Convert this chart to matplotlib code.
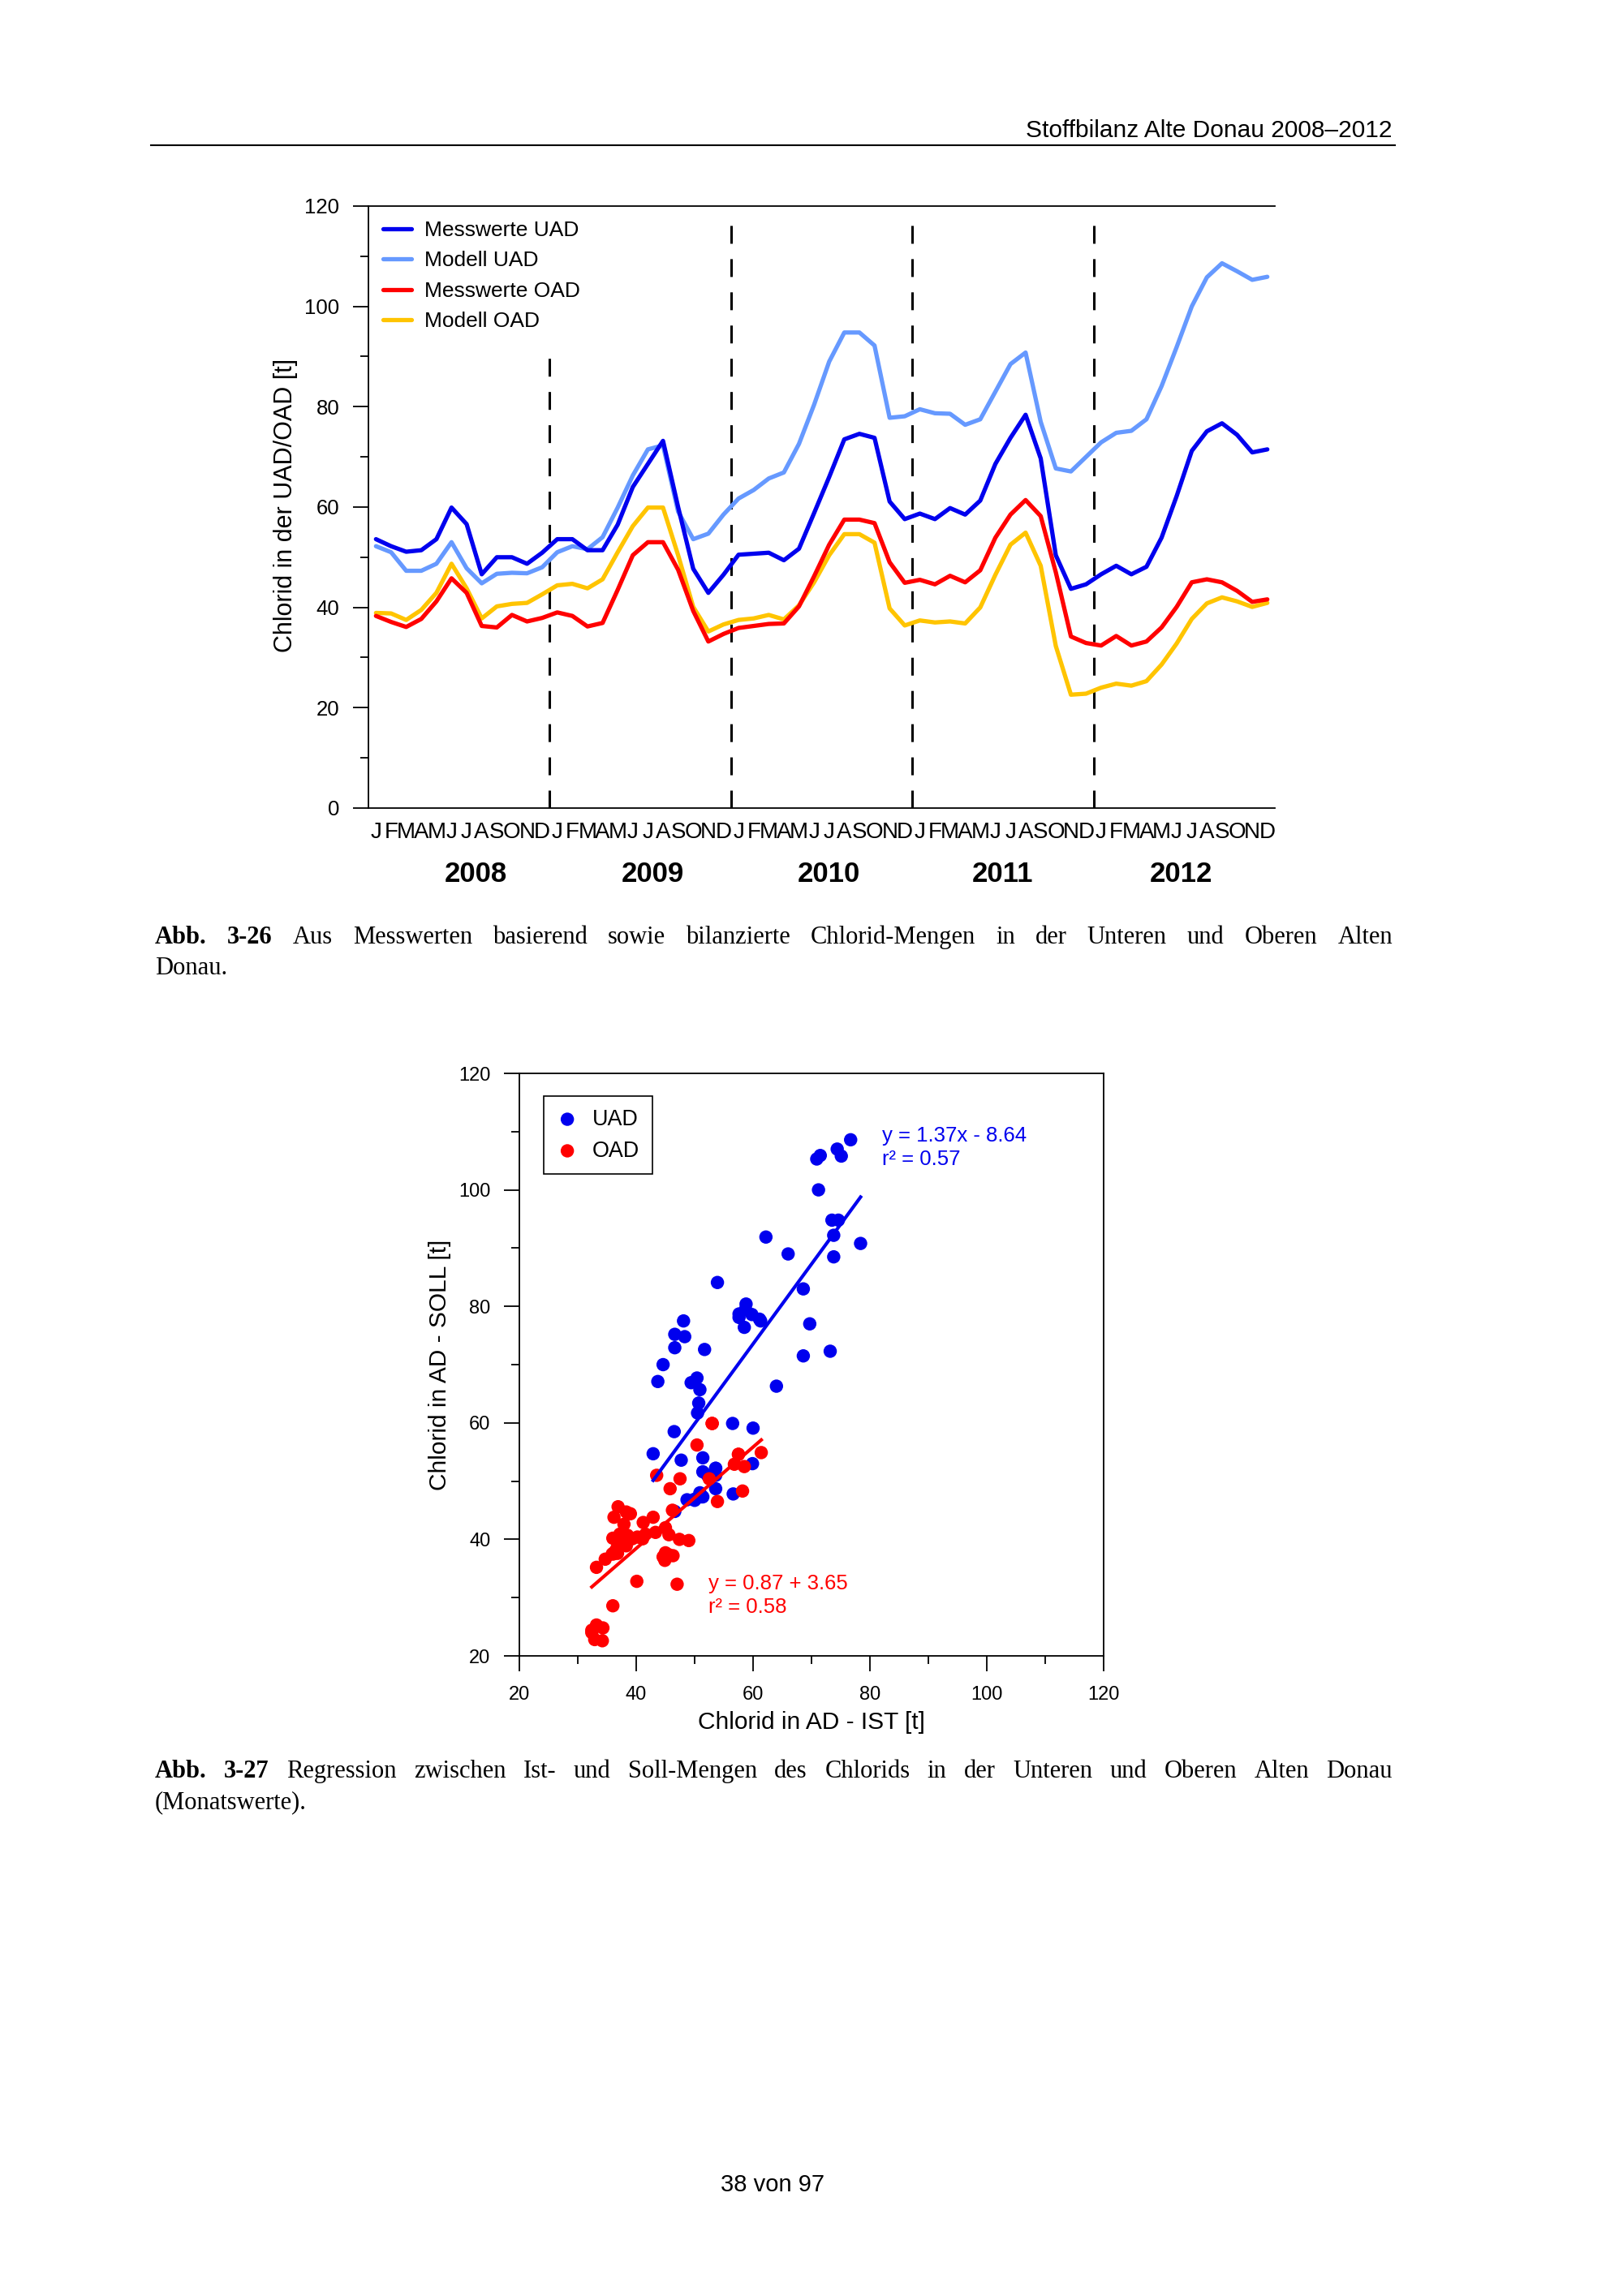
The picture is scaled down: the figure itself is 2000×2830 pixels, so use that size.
import numpy as np
import matplotlib
matplotlib.use('Agg')
import matplotlib.pyplot as plt
from matplotlib import font_manager as fm
from matplotlib.lines import Line2D
from matplotlib.transforms import blended_transform_factory

W, H, DPI = 2000, 2830, 100

# ---------------- data ----------------
month_letters = ['J', 'F', 'M', 'A', 'M', 'J', 'J', 'A', 'S', 'O', 'N', 'D']
years = ['2008', '2009', '2010', '2011', '2012']

mess_uad = [53.6, 52.2, 51.1, 51.4, 53.6, 59.9, 56.6, 46.6, 50.0, 50.0, 48.7, 50.9,
            53.6, 53.6, 51.4, 51.4, 56.5, 64.0, 68.6, 73.2, 60.0, 47.7, 42.9, 46.5,
            50.5, 50.7, 50.9, 49.4, 51.7, 58.8, 66.0, 73.5, 74.6, 73.8, 61.1, 57.6,
            58.7, 57.6, 59.8, 58.5, 61.3, 68.6, 73.8, 78.4, 69.7, 50.4, 43.7, 44.6,
            46.6, 48.3, 46.6, 48.1, 53.9, 62.2, 71.2, 75.1, 76.7, 74.4, 70.9, 71.5]

mod_uad = [52.2, 51.0, 47.3, 47.3, 48.7, 53.0, 47.8, 44.8, 46.7, 46.9, 46.8, 48.0,
           51.0, 52.2, 51.6, 54.0, 59.9, 66.3, 71.5, 72.3, 59.1, 53.6, 54.7, 58.5,
           61.7, 63.4, 65.7, 66.9, 72.6, 80.4, 89.0, 94.8, 94.8, 92.2, 77.8, 78.1,
           79.5, 78.7, 78.6, 76.4, 77.5, 83.0, 88.5, 90.8, 77.0, 67.7, 67.1, 70.0,
           72.9, 74.8, 75.2, 77.5, 84.1, 91.9, 100.0, 105.8, 108.6, 107.0, 105.3, 105.9]

mess_oad = [38.3, 37.1, 36.1, 37.7, 41.2, 45.8, 42.9, 36.3, 36.0, 38.5, 37.2, 37.9,
            39.0, 38.3, 36.2, 36.9, 43.5, 50.4, 53.0, 53.0, 47.5, 39.3, 33.2, 34.7,
            35.9, 36.3, 36.7, 36.8, 40.2, 46.2, 52.5, 57.5, 57.5, 56.8, 49.0, 44.9,
            45.5, 44.6, 46.3, 45.0, 47.4, 53.9, 58.5, 61.4, 58.2, 47.0, 34.2, 32.9,
            32.4, 34.3, 32.4, 33.2, 36.0, 40.1, 45.0, 45.6, 45.0, 43.3, 41.1, 41.6]

mod_oad = [38.9, 38.8, 37.5, 39.5, 42.9, 48.7, 43.8, 37.8, 40.2, 40.7, 40.9, 42.6,
           44.4, 44.7, 43.8, 45.6, 51.0, 56.2, 59.9, 59.9, 50.4, 40.1, 35.2, 36.6,
           37.5, 37.8, 38.5, 37.6, 40.4, 45.0, 50.4, 54.6, 54.6, 52.9, 39.8, 36.4,
           37.4, 37.0, 37.2, 36.8, 40.0, 46.5, 52.5, 54.9, 48.3, 32.3, 22.6, 22.8,
           24.0, 24.8, 24.4, 25.3, 28.6, 32.8, 37.7, 40.8, 42.0, 41.2, 40.1, 40.9]

series_labels = ['Messwerte UAD', 'Modell UAD', 'Messwerte OAD', 'Modell OAD']
year_breaks = [11.5, 23.5, 35.5, 47.5]
break_tops = [91.4, 118.5, 118.5, 118.5]

uad_slope, uad_icpt = 1.37, -8.64
oad_slope, oad_icpt = 0.87, 3.65
uad_eq = ['y = 1.37x - 8.64', 'r\u00b2 = 0.57']
oad_eq = ['y = 0.87 + 3.65', 'r\u00b2 = 0.58']

# ---------------- fonts / colours ----------------
names = {f.name for f in fm.fontManager.ttflist}
SANS = 'Liberation Sans' if 'Liberation Sans' in names else 'DejaVu Sans'
NARROW = 'Liberation Sans Narrow' if 'Liberation Sans Narrow' in names else SANS
SERIF = 'Liberation Serif' if 'Liberation Serif' in names else 'DejaVu Serif'
plt.rcParams['font.family'] = [SANS, 'DejaVu Sans']

C_MU = '#0000EE'   # Messwerte UAD
C_DU = '#6699FF'   # Modell UAD
C_MO = '#FF0000'   # Messwerte OAD
C_DO = '#FFC400'   # Modell OAD

fig = plt.figure(figsize=(W / DPI, H / DPI), dpi=DPI)


def px_axes(l, t, r, b):
    return fig.add_axes([l / W, 1 - b / H, (r - l) / W, (b - t) / H])


def fx(x):
    return x / W


def fy(y):
    return 1 - y / H


# ---------------- page header ----------------
fig.text(fx(1716), fy(169), 'Stoffbilanz Alte Donau 2008\u20132012', ha='right',
         va='baseline', fontsize=21.5)
fig.add_artist(Line2D([fx(186), fx(1719)], [fy(179), fy(179)], color='black', lw=1.5))

# ---------------- time series chart ----------------
ax1 = px_axes(454, 254, 1571, 996)
x = np.arange(len(mess_uad))
for xb, top in zip(year_breaks, break_tops):
    ax1.plot([xb, xb], [0, top], color='black', lw=2.2, ls=(0, (7.2, 6.2)), zorder=1)

kw = dict(lw=3.8, solid_joinstyle='round', solid_capstyle='round')
l_du, = ax1.plot(x, mod_uad, color=C_DU, zorder=3, **kw)
l_mu, = ax1.plot(x, mess_uad, color=C_MU, zorder=4, **kw)
l_do, = ax1.plot(x, mod_oad, color=C_DO, zorder=5, **kw)
l_mo, = ax1.plot(x, mess_oad, color=C_MO, zorder=6, **kw)

ax1.set_xlim(-0.5, 59.5)
ax1.set_ylim(0, 120)
ax1.spines['right'].set_visible(False)
for s in ('left', 'top', 'bottom'):
    ax1.spines[s].set_linewidth(1.3)
ax1.set_yticks(np.arange(0, 121, 20))
ax1.set_yticks(np.arange(10, 120, 20), minor=True)
ax1.tick_params(axis='y', which='major', direction='out', length=13.7, width=1.3,
                pad=12, labelsize=18.5)
ax1.tick_params(axis='y', which='minor', direction='out', length=7.2, width=1.3)
ax1.set_xticks(x)
ax1.set_xticklabels([month_letters[i % 12] for i in x], fontfamily=NARROW, fontsize=20)
ax1.tick_params(axis='x', length=0, pad=12)

ax1.legend([l_mu, l_du, l_mo, l_do], series_labels, loc='upper left',
           bbox_to_anchor=(0.0161, 0.9757), frameon=False, fontsize=19,
           handlelength=1.33, handletextpad=0.6, labelspacing=0.51,
           borderpad=0, borderaxespad=0)

year_pos = [6.6, 18.3, 30.0, 41.5, 53.3]
trans = blended_transform_factory(ax1.transData, ax1.transAxes)
for xp, yr in zip(year_pos, years):
    ax1.text(xp, -0.1105, yr, transform=trans, ha='center', va='center',
             fontsize=25, fontweight='bold')

ax1.set_ylabel('Chlorid in der UAD/OAD [t]', fontsize=22, va='center')
ax1.yaxis.set_label_coords(-0.0913, 0.503)

# ---------------- scatter chart ----------------
ax2 = px_axes(640, 1323, 1360, 2041)
ax2.scatter(mess_uad, mod_uad, s=140, color=C_MU, edgecolors='none', label='UAD', zorder=3)
ax2.scatter(mess_oad, mod_oad, s=140, color=C_MO, edgecolors='none', label='OAD', zorder=3)
xu = np.array([min(mess_uad), max(mess_uad)])
ax2.plot(xu, uad_slope * xu + uad_icpt, color=C_MU, lw=3, zorder=4)
xo = np.array([min(mess_oad), max(mess_oad)])
ax2.plot(xo, oad_slope * xo + oad_icpt, color=C_MO, lw=3, zorder=4)

ax2.set_xlim(20, 120)
ax2.set_ylim(20, 120)
for s in ax2.spines.values():
    s.set_linewidth(1.3)
for axis in (ax2.xaxis, ax2.yaxis):
    axis.set_ticks(np.arange(20, 121, 20))
    axis.set_ticks(np.arange(30, 120, 20), minor=True)
ax2.tick_params(which='major', direction='out', length=13.7, width=1.3, labelsize=17)
ax2.tick_params(which='minor', direction='out', length=7.2, width=1.3)
ax2.tick_params(axis='y', pad=12)
ax2.tick_params(axis='x', pad=13)

leg2 = ax2.legend(loc='upper left', bbox_to_anchor=(0.0417, 0.961), fontsize=19.4,
                  frameon=True, fancybox=False, edgecolor='black', framealpha=1,
                  borderpad=0.58, handlelength=1.0, handletextpad=0.65,
                  labelspacing=0.48, borderaxespad=0, scatterpoints=1)
leg2.get_frame().set_linewidth(1.2)

EQ_SIZE = 18.5
ax2.text(0.621, 0.893, uad_eq[0], transform=ax2.transAxes, color=C_MU, fontsize=EQ_SIZE,
         ha='left', va='center')
ax2.text(0.621, 0.853, uad_eq[1], transform=ax2.transAxes, color=C_MU, fontsize=EQ_SIZE,
         ha='left', va='center')
ax2.text(0.324, 0.124, oad_eq[0], transform=ax2.transAxes, color=C_MO, fontsize=EQ_SIZE,
         ha='left', va='center')
ax2.text(0.324, 0.0836, oad_eq[1], transform=ax2.transAxes, color=C_MO, fontsize=EQ_SIZE,
         ha='left', va='center')

ax2.set_xlabel('Chlorid in AD - IST [t]', fontsize=21.5, va='center')
ax2.xaxis.set_label_coords(0.5, -0.114)
ax2.set_ylabel('Chlorid in AD - SOLL [t]', fontsize=21.5, va='center')
ax2.yaxis.set_label_coords(-0.136, 0.5)

# ---------------- captions (justified) ----------------
renderer = fig.canvas.get_renderer()
CAP_SIZE = 22


def caption_line(words, y_base, x0=191, x1=1716, justify=True):
    texts, widths = [], []
    for w, bold in words:
        t = fig.text(fx(x0), fy(y_base), w, fontsize=CAP_SIZE, family=SERIF,
                     fontweight='bold' if bold else 'normal', va='baseline', ha='left')
        widths.append(t.get_window_extent(renderer).width)
        texts.append(t)
    if justify and len(words) > 1:
        gap = (x1 - x0 - sum(widths)) / (len(words) - 1)
    else:
        sp = fig.text(0, 0, 'a a', fontsize=CAP_SIZE, family=SERIF)
        sp2 = fig.text(0, 0, 'aa', fontsize=CAP_SIZE, family=SERIF)
        gap = sp.get_window_extent(renderer).width - sp2.get_window_extent(renderer).width
        sp.remove()
        sp2.remove()
    xp = x0
    for t, wdt in zip(texts, widths):
        t.set_x(fx(xp))
        xp += wdt + gap


def words_of(bold_part, text):
    return [(w, True) for w in bold_part.split()] + [(w, False) for w in text.split()]


cap1_l1 = words_of('Abb. 3-26', 'Aus Messwerten basierend sowie bilanzierte Chlorid-Mengen '
                   'in der Unteren und Oberen Alten')
cap1_l2 = words_of('', 'Donau.')
caption_line(cap1_l1, 1163)
caption_line(cap1_l2, 1201, justify=False)

cap2_l1 = words_of('Abb. 3-27', 'Regression zwischen Ist- und Soll-Mengen des Chlorids in '
                   'der Unteren und Oberen Alten Donau')
cap2_l2 = words_of('', '(Monatswerte).')
caption_line(cap2_l1, 2191)
caption_line(cap2_l2, 2229, justify=False)

# ---------------- page number ----------------
fig.text(fx(952), fy(2693), '38 von 97', ha='center', va='center', fontsize=21)

fig.savefig('out.png', dpi=DPI)
